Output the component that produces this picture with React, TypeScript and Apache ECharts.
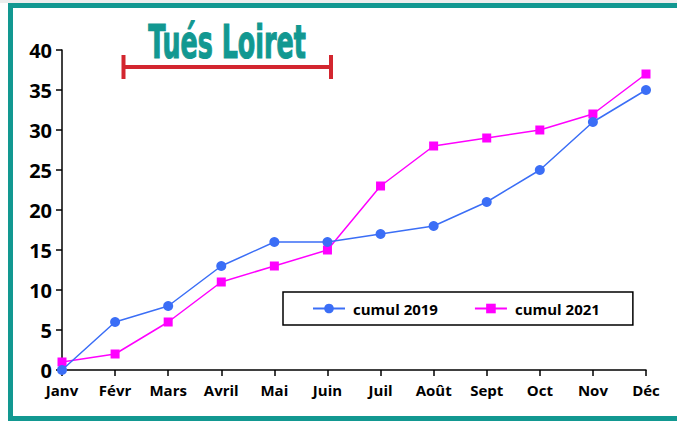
import React, { useEffect, useRef } from "react";
import * as echarts from "echarts";

const months = ["Janv", "Févr", "Mars", "Avril", "Mai", "Juin", "Juil", "Août", "Sept", "Oct", "Nov", "Déc"];
const cumul2019 = [0, 6, 8, 13, 16, 16, 17, 18, 21, 25, 31, 35];
const cumul2021 = [1, 2, 6, 11, 13, 15, 23, 28, 29, 30, 32, 37];
const seriesNames = ["cumul 2019", "cumul 2021"];
const titleText = "Tués Loiret";

const FONT = "'Open Sans', 'Noto Sans', sans-serif";
const TEAL = "#129891";
const RED = "#d3262f";

export default function App() {
  const ref = useRef<HTMLDivElement>(null);
  useEffect(() => {
    document.body.style.margin = "0";
    const chart = echarts.init(ref.current!, null, { renderer: "svg" });
    chart.setOption({
      animation: false,
      backgroundColor: "#ffffff",
      grid: { left: 62, right: 31, top: 50, bottom: 51, containLabel: false },
      legend: {
        left: 283,
        top: 292,
        orient: "horizontal",
        itemWidth: 32,
        itemHeight: 12,
        itemGap: 36,
        padding: [9, 33, 9, 29],
        borderColor: "#000",
        borderWidth: 1.5,
        borderRadius: 0,
        textStyle: { fontFamily: FONT, fontWeight: "bold", fontSize: 15, color: "#000", padding: [0, 0, 0, 3] },
        data: seriesNames,
      },
      xAxis: {
        type: "category",
        data: months,
        boundaryGap: false,
        axisLine: { show: true, lineStyle: { color: "#000", width: 1.5 } },
        axisTick: { show: true, length: 6, lineStyle: { color: "#000", width: 1.5 } },
        axisLabel: { fontFamily: FONT, fontWeight: "bold", fontSize: 15, color: "#000", margin: 12 },
        splitLine: { show: false },
      },
      yAxis: {
        type: "value",
        min: 0,
        max: 40,
        interval: 5,
        axisLine: { show: true, lineStyle: { color: "#000", width: 1.5 } },
        axisTick: { show: true, length: 6, lineStyle: { color: "#000", width: 1.5 } },
        axisLabel: { fontFamily: FONT, fontWeight: "bold", fontSize: 20, color: "#000", margin: 10 },
        splitLine: { show: false },
      },
      series: [
        {
          name: seriesNames[0],
          type: "line",
          data: cumul2019,
          symbol: "circle",
          symbolSize: 10,
          itemStyle: { color: "#3b6ef6" },
          lineStyle: { color: "#3b6ef6", width: 1.5 },
          z: 3,
        },
        {
          name: seriesNames[1],
          type: "line",
          data: cumul2021,
          symbol: "rect",
          symbolSize: 9,
          itemStyle: { color: "#ff00ff" },
          lineStyle: { color: "#ff00ff", width: 1.5 },
          z: 2,
        },
      ],
      graphic: [
        { type: "rect", shape: { x: 0, y: 0, width: 677, height: 3 }, style: { fill: "#ededed" }, silent: true },
        {
          type: "rect",
          shape: { x: 10.5, y: 5.5, width: 700, height: 413 },
          style: { fill: "none", stroke: TEAL, lineWidth: 5 },
          silent: true,
        },
        {
          type: "group",
          x: 227,
          y: 42,
          scaleX: 0.6,
          children: [
            {
              type: "text",
              x: 0,
              y: 0,
              style: {
                text: titleText,
                fill: TEAL,
                stroke: TEAL,
                lineWidth: 1.2,
                font: "bold 47px 'Liberation Sans Narrow', 'DejaVu Sans Condensed', sans-serif",
                align: "center",
                verticalAlign: "middle",
              },
            },
          ],
        },
        { type: "line", shape: { x1: 122, y1: 67, x2: 332, y2: 67 }, style: { stroke: RED, lineWidth: 4 } },
        { type: "line", shape: { x1: 123.5, y1: 55, x2: 123.5, y2: 79 }, style: { stroke: RED, lineWidth: 4 } },
        { type: "line", shape: { x1: 331, y1: 55, x2: 331, y2: 79 }, style: { stroke: RED, lineWidth: 4 } },
      ],
    });
    return () => chart.dispose();
  }, []);
  return <div ref={ref} style={{ width: 677, height: 421 }} />;
}
